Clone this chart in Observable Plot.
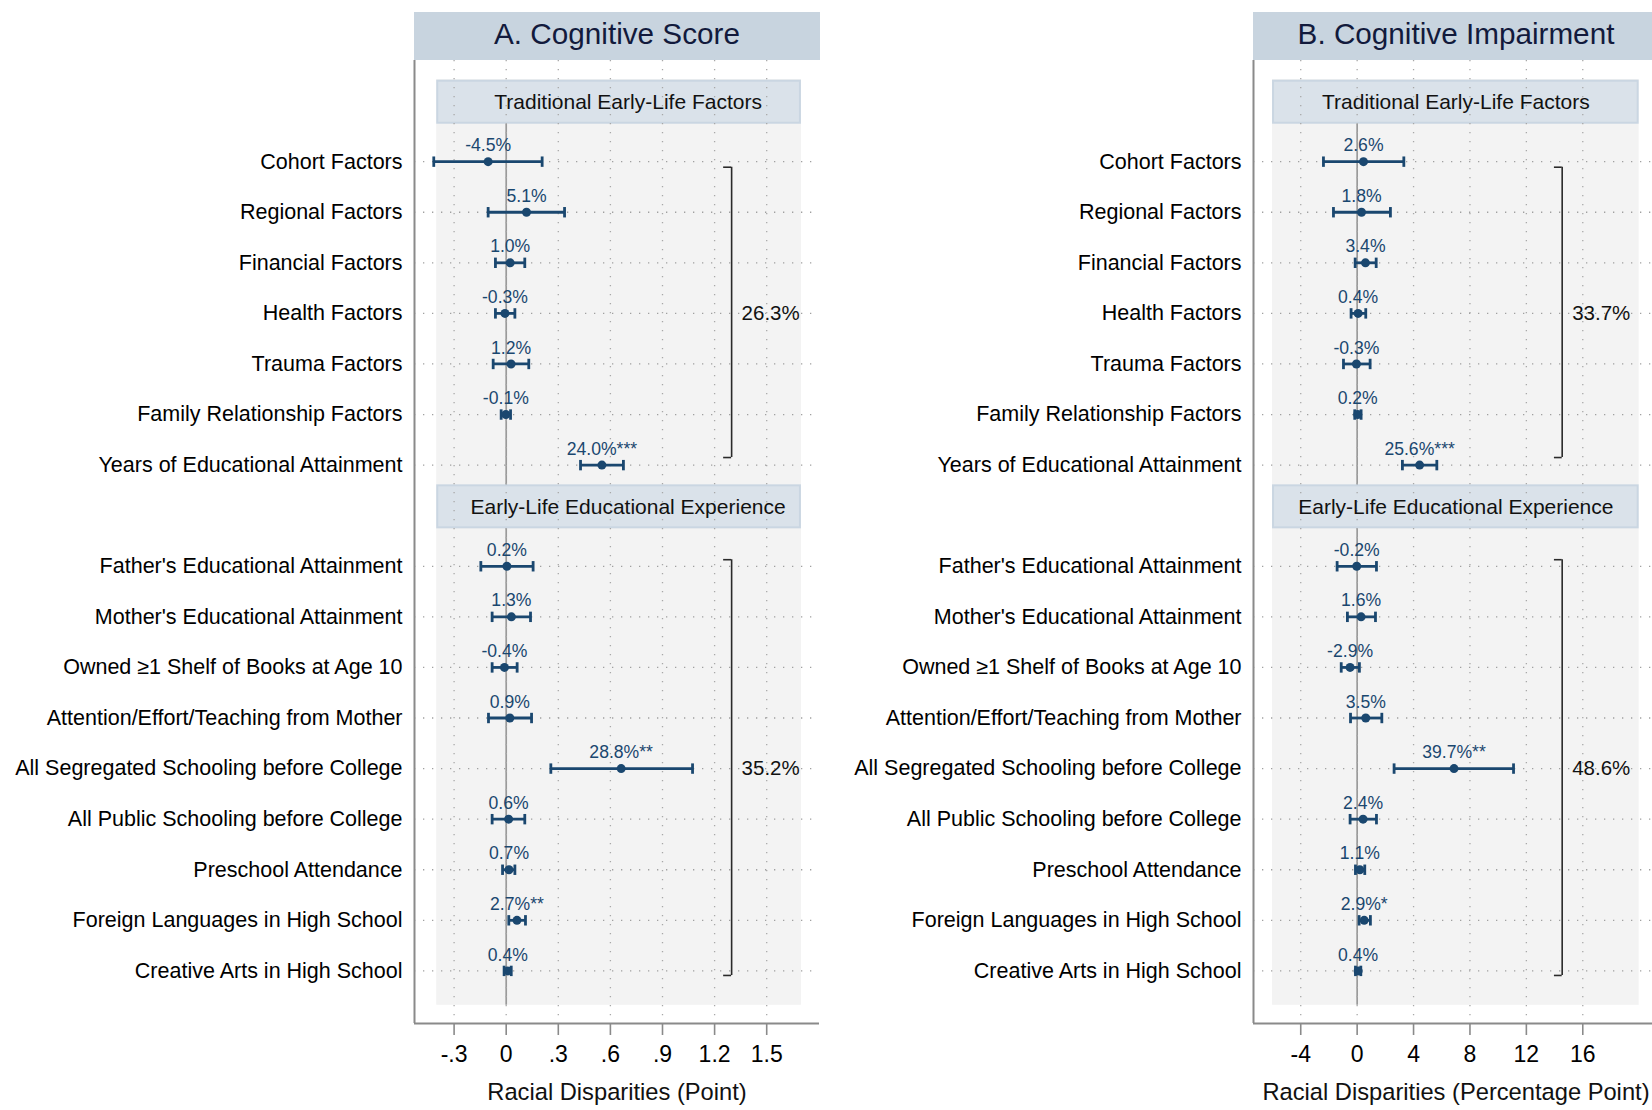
<!DOCTYPE html>
<html><head><meta charset="utf-8">
<script src="https://cdn.jsdelivr.net/npm/d3@7"></script>
<script src="https://cdn.jsdelivr.net/npm/@observablehq/plot@0.6"></script>
<style>
html,body{margin:0;padding:0;background:#fff;}
body{width:1652px;height:1110px;overflow:hidden;position:relative;font-family:"Liberation Sans",Arial,Helvetica,sans-serif;}
.panel{position:absolute;top:0;height:1110px;overflow:visible;}
.ptitle{position:absolute;top:12px;height:48px;background:#c8d4df;color:#121a3c;font-size:29.7px;line-height:44px;text-align:center;white-space:nowrap;}
.pplot{position:absolute;left:0;top:60px;}
</style></head><body>
<div class="panel" id="panelA" style="left:0;width:832px"><div class="ptitle" style="left:414px;width:406px"></div><div class="pplot"></div></div>
<div class="panel" id="panelB" style="left:826px;width:832px"><div class="ptitle" style="left:427px;width:406px"></div><div class="pplot"></div></div>
<script>
// ---------- DATA ----------
const panelTitles = ["A. Cognitive Score", "B. Cognitive Impairment"];
const axisTitles = ["Racial Disparities (Point)", "Racial Disparities (Percentage Point)"];
const groupNames = ["Traditional Early-Life Factors", "Early-Life Educational Experience"];
const group1 = ["Cohort Factors", "Regional Factors", "Financial Factors", "Health Factors",
  "Trauma Factors", "Family Relationship Factors", "Years of Educational Attainment"];
const group2 = ["Father's Educational Attainment", "Mother's Educational Attainment",
  "Owned ≥1 Shelf of Books at Age 10", "Attention/Effort/Teaching from Mother",
  "All Segregated Schooling before College", "All Public Schooling before College",
  "Preschool Attendance", "Foreign Languages in High School", "Creative Arts in High School"];

// Panel A: Cognitive score
const scoreEst = [-0.104, 0.117, 0.023, -0.007, 0.028, -0.002, 0.551, 0.004, 0.030, -0.010, 0.021, 0.662, 0.014, 0.016, 0.062, 0.009];
const scoreLo  = [-0.417, -0.104, -0.062, -0.062, -0.075, -0.029, 0.428, -0.146, -0.081, -0.081, -0.102, 0.257, -0.081, -0.021, 0.015, -0.012];
const scoreHi  = [0.207, 0.336, 0.107, 0.050, 0.130, 0.025, 0.675, 0.155, 0.140, 0.063, 0.146, 1.073, 0.107, 0.050, 0.111, 0.029];
const scorePct = [-4.5, 5.1, 1.0, -0.3, 1.2, -0.1, 24.0, 0.2, 1.3, -0.4, 0.9, 28.8, 0.6, 0.7, 2.7, 0.4];
const scoreStars = ["", "", "", "", "", "", "***", "", "", "", "", "**", "", "", "**", ""];
const scoreTotals = ["26.3%", "35.2%"];
const scoreTicks = [-0.3, 0, 0.3, 0.6, 0.9, 1.2, 1.5];
const scoreTickLabels = ["-.3", "0", ".3", ".6", ".9", "1.2", "1.5"];

// Panel B: Cognitive impairment
const impEst = [0.45, 0.31, 0.59, 0.07, -0.05, 0.04, 4.43, -0.03, 0.28, -0.50, 0.61, 6.87, 0.42, 0.19, 0.50, 0.07];
const impLo  = [-2.39, -1.68, -0.14, -0.43, -0.97, -0.17, 3.21, -1.42, -0.69, -1.13, -0.47, 2.62, -0.50, -0.12, 0.14, -0.12];
const impHi  = [3.31, 2.36, 1.35, 0.61, 0.92, 0.28, 5.65, 1.37, 1.30, 0.16, 1.75, 11.09, 1.37, 0.54, 0.94, 0.26];
const impPct = [2.6, 1.8, 3.4, 0.4, -0.3, 0.2, 25.6, -0.2, 1.6, -2.9, 3.5, 39.7, 2.4, 1.1, 2.9, 0.4];
const impStars = ["", "", "", "", "", "", "***", "", "", "", "", "**", "", "", "*", ""];
const impTotals = ["33.7%", "48.6%"];
const impTicks = [-4, 0, 4, 8, 12, 16];
const impTickLabels = ["-4", "0", "4", "8", "12", "16"];

// ---------- LAYOUT / STYLE ----------
const navy = "#1a476f";
const font = "'Liberation Sans', Arial, Helvetica, sans-serif";

// slot index for each row: strip 1 at 0, group1 1..7, strip 2 at 8, group2 9..17
const cats = [...group1, ...group2];
const slotOf = cats.map((c, i) => i < group1.length ? i + 1 : i + 2);
const stripSlots = [0, group1.length + 1];
const groupRanges = [[0, group1.length - 1], [group1.length, cats.length - 1]];

const vline = { draw(ctx, size) { const r = Math.sqrt(size / Math.PI); ctx.moveTo(0, -r); ctx.lineTo(0, r); } };

const configs = [
  { sel: "#panelA", title: panelTitles[0], axisTitle: axisTitles[0], est: scoreEst, lo: scoreLo, hi: scoreHi,
    pct: scorePct, stars: scoreStars, totals: scoreTotals, ticks: scoreTicks, tickLabels: scoreTickLabels,
    xDomain: [-0.528, 1.804], bg: [-0.4, 1.7], bracketX: 1.298, capLen: 0.046,
    width: 826, marginLeft: 414, marginRight: 7, stripDx: 9 },
  { sel: "#panelB", title: panelTitles[1], axisTitle: axisTitles[1], est: impEst, lo: impLo, hi: impHi,
    pct: impPct, stars: impStars, totals: impTotals, ticks: impTicks, tickLabels: impTickLabels,
    xDomain: [-7.35, 21.37], bg: [-6, 20], bracketX: 14.54, capLen: 0.55,
    width: 832, marginLeft: 427, marginRight: 0, stripDx: 0 }
];

const yDomain = [-1, 18.04];

for (const cfg of configs) {
  document.querySelector(cfg.sel + " .ptitle").textContent = cfg.title;
  const rows = cats.map((c, i) => ({
    cat: c, y: slotOf[i], est: cfg.est[i], lo: cfg.lo[i], hi: cfg.hi[i],
    label: cfg.pct[i].toFixed(1) + "%" + cfg.stars[i]
  }));
  const strips = groupNames.map((g, i) => ({ name: g, slot: stripSlots[i] }));
  const brackets = groupRanges.map(([a, b], i) => {
    const top = slotOf[a], bot = slotOf[b];
    return i === 0
      ? { top: top + 0.11, bot: bot - 0.15, mid: (top + bot) / 2, label: cfg.totals[i] }
      : { top: top - 0.13, bot: bot + 0.09, mid: (top + bot) / 2, label: cfg.totals[i] };
  });
  const labelOf = new Map(rows.map(r => [r.y, r.cat]));
  const tickLabelOf = new Map(cfg.ticks.map((t, i) => [t, cfg.tickLabels[i]]));
  const bgTop = stripSlots[0] - 0.625, bgBot = slotOf[cats.length - 1] + 0.68;

  const chart = Plot.plot({
    width: cfg.width, height: 1050,
    marginTop: 0, marginBottom: 87, marginLeft: cfg.marginLeft, marginRight: cfg.marginRight,
    x: { domain: cfg.xDomain },
    y: { domain: yDomain, reverse: true },
    style: { fontFamily: font, fontSize: "16px", color: "#000", background: "transparent", overflow: "visible" },
    marks: [
      // light plot region background
      Plot.rect([0], { x1: () => cfg.bg[0], x2: () => cfg.bg[1], y1: () => bgTop, y2: () => bgBot, fill: "#f3f3f3" }),
      // zero reference line
      Plot.ruleX([0], { y1: () => stripSlots[0] + 0.265, y2: () => bgBot, stroke: "#9a9a9a", strokeWidth: 1.7 }),
      // group strips
      Plot.rect(strips, { x1: () => cfg.bg[0], x2: () => cfg.bg[1], y1: d => d.slot - 0.61, y2: d => d.slot + 0.26,
        fill: "#dae2ea", stroke: "#cad6e2", strokeWidth: 2, inset: 1 }),
      // dotted grid
      Plot.gridX(cfg.ticks, { stroke: "#a8a8a8", strokeOpacity: 1, strokeWidth: 1.3, strokeDasharray: "1.3,7.7" }),
      Plot.gridY(rows.map(r => r.y), { stroke: "#a0a0a0", strokeOpacity: 1, strokeWidth: 1.3, strokeDasharray: "1.3,7.7" }),
      // strip labels
      Plot.text(strips, { x: () => (cfg.bg[0] + cfg.bg[1]) / 2, y: d => d.slot - 0.17, text: "name",
        dx: cfg.stripDx, fontSize: 21, fill: "#111" }),
      // brackets
      Plot.ruleX(brackets, { x: () => cfg.bracketX, y1: "top", y2: "bot", stroke: "#2a2a2a", strokeWidth: 1.6 }),
      Plot.ruleY(brackets, { y: "top", x1: () => cfg.bracketX - cfg.capLen, x2: () => cfg.bracketX, stroke: "#2a2a2a", strokeWidth: 1.6 }),
      Plot.ruleY(brackets, { y: "bot", x1: () => cfg.bracketX - cfg.capLen, x2: () => cfg.bracketX, stroke: "#2a2a2a", strokeWidth: 1.6 }),
      Plot.text(brackets, { x: () => cfg.bracketX, y: "mid", text: "label", textAnchor: "start", dx: 10, fontSize: 20.5, fill: "#111" }),
      // confidence intervals
      Plot.ruleY(rows, { y: "y", x1: "lo", x2: "hi", stroke: navy, strokeWidth: 2.8 }),
      Plot.dot(rows, { x: "lo", y: "y", symbol: vline, r: 5.2, fill: "none", stroke: navy, strokeWidth: 2.8 }),
      Plot.dot(rows, { x: "hi", y: "y", symbol: vline, r: 5.2, fill: "none", stroke: navy, strokeWidth: 2.8 }),
      // estimates
      Plot.dot(rows, { x: "est", y: "y", r: 4.5, fill: navy, stroke: "none" }),
      Plot.text(rows, { x: "est", y: "y", text: "label", dy: -16, fontSize: 17.6, fill: navy }),
      // axes
      Plot.ruleX([cfg.xDomain[0]], { stroke: "#8a8a8a", strokeWidth: 2 }),
      Plot.ruleY([yDomain[1]], { stroke: "#8a8a8a", strokeWidth: 2 }),
      Plot.axisX(cfg.ticks, { tickFormat: d => tickLabelOf.get(d), tickSize: 12, tickPadding: 10, fontSize: 23,
        stroke: "#8a8a8a", strokeWidth: 1.6, label: null }),
      Plot.axisY(rows.map(r => r.y), { tickFormat: d => labelOf.get(d), tickSize: 0, tickPadding: 12, fontSize: 21.5, label: null }),
      Plot.text([cfg.axisTitle], { frameAnchor: "bottom", dy: 76, fontSize: 23.7, fill: "#111" })
    ]
  });
  document.querySelector(cfg.sel + " .pplot").appendChild(chart);
}
</script>
</body></html>
